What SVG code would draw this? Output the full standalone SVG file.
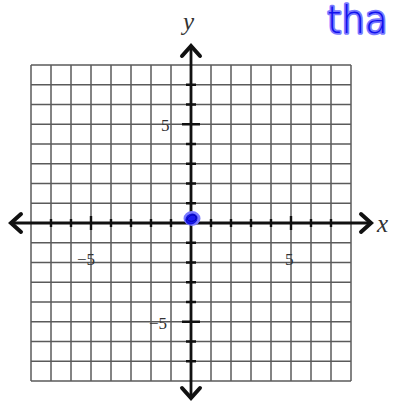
<svg xmlns="http://www.w3.org/2000/svg" width="393" height="401" viewBox="0 0 393 401">
<style>
.grid line{stroke:#5a5a5a;stroke-width:1.5}
.axis{stroke:#111;stroke-width:2.8;fill:none}
.tick{stroke:#111;stroke-width:2.4}
.head{stroke:#111;stroke-width:4;fill:none;stroke-linejoin:miter;stroke-linecap:round}
.num{font-family:"Liberation Serif",serif;font-size:17px;fill:#333}
.var{font-family:"Liberation Serif",serif;font-style:italic;font-size:25px;fill:#333}
.ink{font-family:"DejaVu Sans",sans-serif;font-weight:200;font-size:37px;fill:#1010ee;stroke:#7a7aff;stroke-width:3.5;paint-order:stroke;stroke-linejoin:round}
</style>
<rect width="393" height="401" fill="#fff"/>
<g id="grid" class="grid">
<line x1="31" y1="65" x2="31" y2="381"/><line x1="51" y1="65" x2="51" y2="381"/><line x1="71" y1="65" x2="71" y2="381"/><line x1="91" y1="65" x2="91" y2="381"/><line x1="111" y1="65" x2="111" y2="381"/><line x1="131" y1="65" x2="131" y2="381"/><line x1="151" y1="65" x2="151" y2="381"/><line x1="171" y1="65" x2="171" y2="381"/><line x1="211" y1="65" x2="211" y2="381"/><line x1="231" y1="65" x2="231" y2="381"/><line x1="251" y1="65" x2="251" y2="381"/><line x1="271" y1="65" x2="271" y2="381"/><line x1="291" y1="65" x2="291" y2="381"/><line x1="311" y1="65" x2="311" y2="381"/><line x1="331" y1="65" x2="331" y2="381"/><line x1="351" y1="65" x2="351" y2="381"/>
<line x1="31" y1="65" x2="351" y2="65"/><line x1="31" y1="84.75" x2="351" y2="84.75"/><line x1="31" y1="104.5" x2="351" y2="104.5"/><line x1="31" y1="124.25" x2="351" y2="124.25"/><line x1="31" y1="144" x2="351" y2="144"/><line x1="31" y1="163.75" x2="351" y2="163.75"/><line x1="31" y1="183.5" x2="351" y2="183.5"/><line x1="31" y1="203.25" x2="351" y2="203.25"/><line x1="31" y1="242.75" x2="351" y2="242.75"/><line x1="31" y1="262.5" x2="351" y2="262.5"/><line x1="31" y1="282.25" x2="351" y2="282.25"/><line x1="31" y1="302" x2="351" y2="302"/><line x1="31" y1="321.75" x2="351" y2="321.75"/><line x1="31" y1="341.5" x2="351" y2="341.5"/><line x1="31" y1="361.25" x2="351" y2="361.25"/><line x1="31" y1="381" x2="351" y2="381"/>
</g>
<g id="axes">
<line class="axis" x1="12" y1="223" x2="370" y2="223"/>
<line class="axis" x1="191" y1="47" x2="191" y2="396"/>
<polyline class="head" points="21,214 11,223 21,232"/>
<polyline class="head" points="361,214 371,223 361,232"/>
<polyline class="head" points="182,56 191,46 200,56"/>
<polyline class="head" points="182,388 191,398 200,388"/>
<path class="tick" d="M51 219V227M71 219V227M111 219V227M131 219V227M151 219V227M171 219V227M211 219V227M231 219V227M251 219V227M271 219V227M311 219V227M331 219V227M91 216V230M291 216V230"/>
<path class="tick" d="M186 84.75H196M186 104.5H196M186 144H196M186 163.75H196M186 183.5H196M186 203.25H196M186 242.75H196M186 262.5H196M186 282.25H196M186 302H196M186 341.5H196M186 361.25H196M182 124.25H200M182 321.75H200"/>
</g>
<g id="labels">
<text class="var" x="183" y="30">y</text>
<text class="var" x="377" y="232">x</text>
<text class="num" x="161" y="131">5</text>
<text class="num" x="149" y="329">−5</text>
<text class="num" x="77" y="265">−5</text>
<text class="num" x="285" y="265">5</text>
</g>
<g id="ink">
<text class="ink" x="327" y="33">tha</text>
<g fill="none" stroke-linecap="round">
<ellipse cx="192" cy="218.5" rx="7.5" ry="6.5" fill="#7a7aff" stroke="#7a7aff" stroke-width="2"/>
<ellipse cx="191.5" cy="219" rx="5.5" ry="4.5" fill="#1a1aee" stroke="#1010dd" stroke-width="1.5" transform="rotate(-25 191.5 219)"/>
<path d="M187 220 C188 215,195 213,196 217 C197 221,190 223,188 220" stroke="#0000aa" stroke-width="1"/>
</g>
</g>
</svg>
